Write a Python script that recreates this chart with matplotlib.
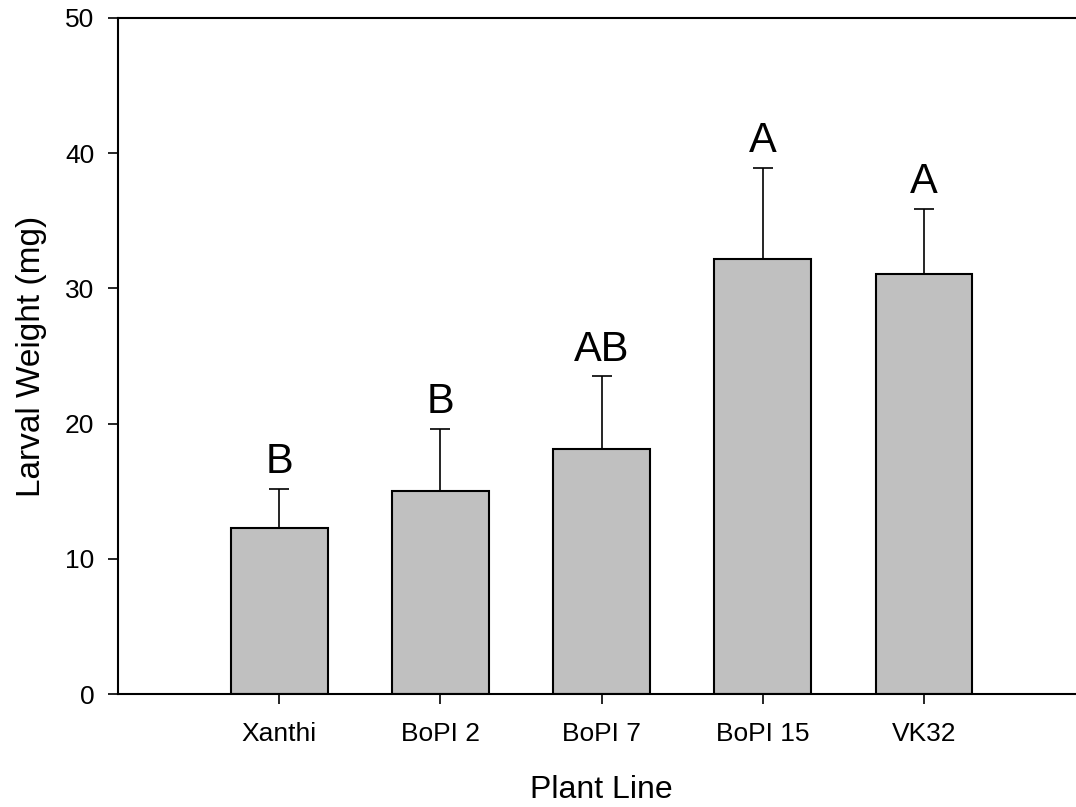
import matplotlib.pyplot as plt
import numpy as np

plt.rcParams['font.family'] = ['Liberation Sans', 'DejaVu Sans']

# larval weight per plant line, with upper error bars and group letters
lines = ['Xanthi', 'BoPI 2', 'BoPI 7', 'BoPI 15', 'VK32']
weight = [12.3, 15.0, 18.1, 32.2, 31.1]
err = [2.9, 4.6, 5.4, 6.7, 4.8]
groups = ['B', 'B', 'AB', 'A', 'A']

fig = plt.figure(figsize=(10.76, 8.07), dpi=100)
ax = fig.add_axes([0.1097, 0.1400, 0.8987, 0.8377])

x = np.arange(len(lines))
ax.bar(x, weight, width=0.6, color='#c0c0c0', edgecolor='black', linewidth=1.5, zorder=2)
ax.errorbar(x, weight, yerr=[np.zeros(len(err)), err], fmt='none', ecolor='black',
            elinewidth=1.2, capsize=7.5, capthick=1.2, zorder=3)

# significance letters above the error bars
for xi, w, e, g in zip(x, weight, err, groups):
    ax.text(xi, w + e + 0.5, g, ha='center', va='bottom', fontsize=30)

ax.set_xlim(-1, 5)
ax.set_ylim(0, 50)
ax.set_xticks(x)
ax.set_xticklabels(lines)
ax.set_yticks([0, 10, 20, 30, 40, 50])
ax.tick_params(axis='x', direction='out', length=7, width=1.2, labelsize=19, pad=13)
ax.tick_params(axis='y', direction='out', length=7, width=1.2, labelsize=19, pad=10)

for s in ['left', 'top', 'bottom']:
    ax.spines[s].set_linewidth(1.5)
ax.spines['right'].set_visible(False)

ax.set_xlabel('Plant Line', fontsize=23, labelpad=21)
ax.set_ylabel('Larval Weight (mg)', fontsize=24, labelpad=13)

fig.savefig('out.png', dpi=100)
